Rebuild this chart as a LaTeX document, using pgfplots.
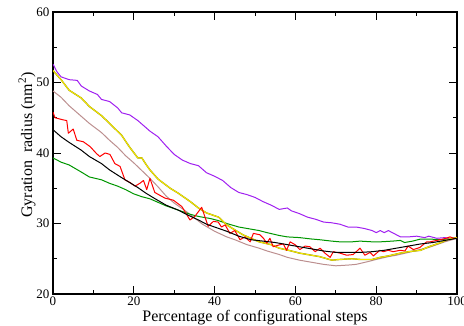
\documentclass[border=0pt]{standalone}
\usepackage{pgfplots}
\pgfplotsset{compat=1.18}
\usepackage{fontspec}
\setmainfont{Liberation Serif}
\definecolor{cpurple}{RGB}{160,32,240}
\definecolor{cgreen}{RGB}{0,150,0}
\definecolor{cbrown}{RGB}{188,143,143}
\definecolor{cyel}{RGB}{245,235,0}
\definecolor{colive}{RGB}{150,140,0}
\begin{document}
\begin{tikzpicture}
\useasboundingbox (-53pt,-32pt) rectangle (411pt,294pt);
\begin{axis}[
  width=404pt, height=282pt, scale only axis,
  xmin=0, xmax=100, ymin=20, ymax=60,
  xtick={0,20,...,100}, ytick={20,30,...,60},
  minor x tick num=1, minor y tick num=1,
  tick align=inside, major tick length=8pt, minor tick length=4pt,
  every tick/.style={line width=0.9pt, black},
  axis line style={line width=1.4pt},
  /pgf/number format/assume math mode=true,
  ticklabel style={font=\fontsize{13}{13}\selectfont},
  xticklabel style={yshift=1pt},
  label style={font=\fontsize{16}{16}\selectfont},
  xlabel={Percentage of configurational steps},
  ylabel={Gyration\ \ radius (nm\textsuperscript{2})},
  xlabel style={yshift=2pt},
  ylabel style={yshift=-6pt, xshift=8pt},
  every axis plot/.style={line width=1.0pt, line join=round},
  clip=true,
]
% brown
\addplot[cbrown] coordinates {(0,48.8)(2,47.9)(4,46.7)(7,45.2)(9,44.2)(12,42.9)(14,41.8)(16,40.8)(18,39.6)(20,38.6)(22,37.5)(24,36.4)(26,35.2)(28,33.9)(30,32.9)(33,31.7)(35,30.8)(37,29.9)(40,28.9)(43,28.1)(45,27.7)(48,27.0)(51,26.5)(53,26.1)(56,25.6)(58,25.2)(61,24.8)(64,24.5)(67,24.2)(70,24.0)(73,24.1)(75,24.2)(78,24.6)(80,24.9)(83,25.3)(85,25.5)(88,25.9)(90,26.2)(93,26.6)(95,27.0)(97,27.4)(100,27.9)};
% green
\addplot[cgreen] coordinates {(0,39.3)(2,38.7)(4,38.3)(7,37.3)(9,36.6)(12,36.2)(14,35.7)(16,35.3)(18,34.8)(20,34.2)(22,33.8)(24,33.5)(26,33.0)(28,32.5)(30,32.1)(32,31.7)(34,31.3)(36,31.0)(39,30.7)(41,30.4)(43,30.0)(46,29.5)(48,29.3)(51,29.0)(53,28.7)(56,28.3)(58,28.1)(61,28.0)(64,27.8)(66,27.7)(69,27.5)(71,27.4)(74,27.4)(76,27.5)(79,27.4)(81,27.4)(84,27.5)(86,27.6)(87,27.3)(89,27.5)(91,27.8)(93,27.8)(96,27.7)(100,28.0)};
% purple
\addplot[cpurple] coordinates {(0,52.6)(1,51.5)(2,50.8)(4,50.4)(6,50.3)(7,49.5)(9,48.8)(11,48.3)(12,47.6)(14,47.3)(16,46.4)(17,45.7)(19,45.4)(21,44.6)(23,43.6)(24,43.1)(26,42.3)(28,41.0)(30,39.8)(32,39.0)(34,38.5)(36,38.2)(38,37.2)(40,36.7)(42,36.1)(44,35.1)(46,34.4)(48,34.1)(50,33.7)(52,33.1)(54,32.6)(56,32.0)(58,32.2)(59,31.8)(61,31.4)(63,30.9)(65,30.6)(67,30.2)(69,30.1)(71,29.9)(73,29.5)(75,29.5)(77,29.3)(79,29.0)(80,28.7)(81,29.0)(82,28.7)(83,29.0)(84,28.7)(85,28.4)(86,28.1)(88,28.1)(90,28.2)(92,28.0)(93,28.2)(95,27.9)(97,28.0)(98,27.8)(100,28.0)};
% yellow (olive edge + yellow core)
\addplot[colive, line width=1.4pt] coordinates {(0,51.7)(2,50.4)(4,48.9)(7,47.8)(9,46.6)(12,45.3)(14,44.2)(17,42.5)(19,40.8)(21,39.3)(22,39.3)(23,38.4)(24,37.6)(26,36.3)(29,35.0)(31,34.3)(34,33.1)(36,32.2)(38,31.5)(41,30.9)(43,29.8)(45,29.1)(47,28.4)(49,27.9)(51,27.4)(54,27.0)(56,26.5)(59,26.1)(61,25.8)(64,25.5)(66,25.3)(69,24.8)(71,24.9)(74,25.0)(76,24.9)(79,24.9)(81,25.2)(83,25.4)(86,25.8)(88,26.0)(91,26.2)(93,26.7)(96,27.3)(98,27.8)(100,28.0)};
\addplot[cyel, line width=0.9pt] coordinates {(0,51.7)(2,50.4)(4,48.9)(7,47.8)(9,46.6)(12,45.3)(14,44.2)(17,42.5)(19,40.8)(21,39.3)(22,39.3)(23,38.4)(24,37.6)(26,36.3)(29,35.0)(31,34.3)(34,33.1)(36,32.2)(38,31.5)(41,30.9)(43,29.8)(45,29.1)(47,28.4)(49,27.9)(51,27.4)(54,27.0)(56,26.5)(59,26.1)(61,25.8)(64,25.5)(66,25.3)(69,24.8)(71,24.9)(74,25.0)(76,24.9)(79,24.9)(81,25.2)(83,25.4)(86,25.8)(88,26.0)(91,26.2)(93,26.7)(96,27.3)(98,27.8)(100,28.0)};
% red
\addplot[red] coordinates {(0,45.8)(0.5,45.0)(2.5,44.7)(3.4,44.6)(3.8,42.8)(5,43.4)(5.9,41.8)(7.5,41.6)(9.2,40.9)(10.8,39.9)(11.6,39.5)(12.9,40.0)(14.1,39.8)(15.3,38.5)(16.6,38.1)(17.8,36.2)(19.1,35.8)(20.3,35.3)(21.5,35.7)(22.4,36.1)(23.2,34.8)(24,36.4)(25.2,34.4)(27.7,33.6)(29.8,33.3)(31.9,32.4)(33.9,30.5)(35.1,31.0)(36.8,32.3)(38.4,29.6)(39.7,30.3)(40.9,30.2)(41.7,29.5)(42.6,29.8)(43.8,28.6)(45,29.0)(46.3,27.7)(47.5,28.1)(48.8,27.4)(49.6,28.6)(51.2,28.4)(52.1,27.9)(52.9,27.2)(53.7,27.9)(54.5,26.7)(56.2,27.0)(57,27.1)(57.8,26.2)(58.7,27.4)(59.9,27.0)(61.1,26.3)(62.4,26.8)(63.6,26.7)(64.9,26.0)(66.1,26.5)(67.3,25.8)(68.6,25.2)(69.4,26.0)(71,25.8)(72.7,25.5)(74.3,25.6)(76,26.5)(77.2,25.5)(78.5,25.9)(79.3,25.4)(80.9,26.2)(81.8,26.0)(83,26.2)(84.2,26.0)(85.9,26.2)(87.1,26.1)(87.9,26.8)(89.2,26.3)(90.8,26.6)(92.5,27.4)(93.3,27.4)(95,27.6)(96.6,27.8)(98.3,28.1)(99.1,27.9)(100,27.9)};
% black
\addplot[black] coordinates {(0,43.3)(2,42.3)(4,41.5)(7,40.4)(9,39.5)(12,38.5)(14,37.6)(17,36.5)(19,35.8)(21,35.1)(23,34.3)(25,33.6)(28,32.6)(31,31.9)(33,31.3)(36,30.5)(38,29.9)(41,29.3)(43,28.9)(46,28.2)(49,27.7)(52,27.5)(55,27.3)(58,27.0)(61,26.7)(64,26.4)(67,26.1)(70,25.9)(73,25.9)(76,25.9)(79,26.0)(82,26.2)(85,26.5)(88,26.8)(91,27.1)(94,27.3)(97,27.6)(100,27.9)};
\end{axis}
\end{tikzpicture}
\end{document}
